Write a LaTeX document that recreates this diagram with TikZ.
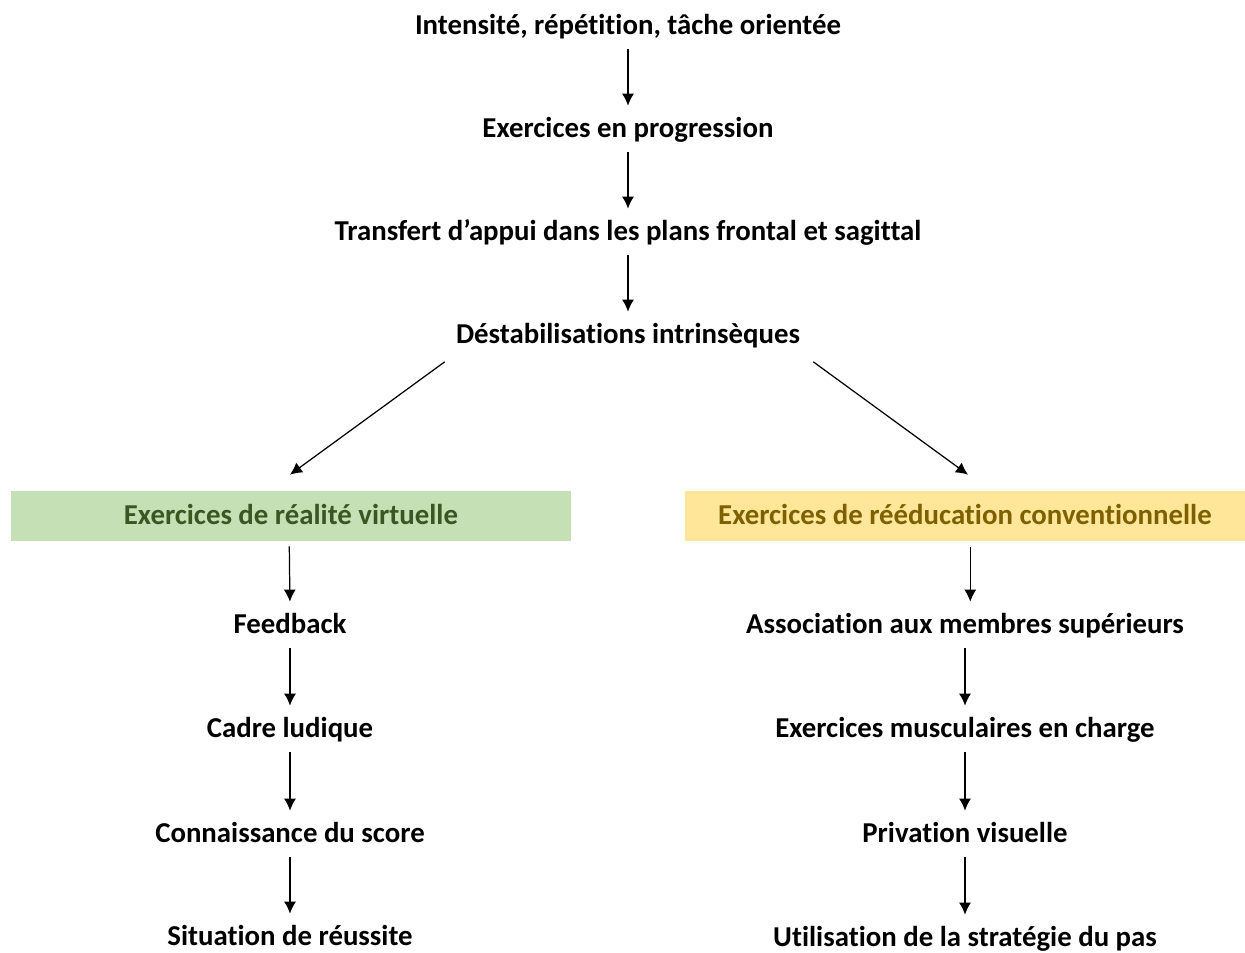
\documentclass[tikz,border=0pt]{standalone}
\usepackage{fontspec}
\setmainfont{Carlito}[Ligatures=NoCommon]
\usetikzlibrary{arrows.meta}
\definecolor{vertfond}{HTML}{C5E0B4}\definecolor{vertfonce}{HTML}{385723}
\definecolor{jaunefond}{HTML}{FFE699}\definecolor{ocre}{HTML}{7F6000}
\begin{document}
\begin{tikzpicture}[x=0.02cm,y=-0.02cm]
	\tikzstyle{fleche}=[-{Latex[length=2.4mm,width=2.4mm]},line width=0.7pt,shorten <=1.6mm,shorten >=1.7mm]
	\tikzstyle{etape}=[font=\fontsize{16.4}{19}\selectfont\bfseries,inner sep=0pt,text height=13pt,text depth=3.5pt]
	\tikzstyle{cadre}=[etape,minimum width=11.2cm,minimum height=1cm]
	\def\ColonneA{628}\def\ColonneB{290}\def\ColonneC{965}
	\useasboundingbox (0,0) rectangle (1245,953);
	% tronc commun
	\node[etape] (I) at (\ColonneA,26) {Intensité, répétition, tâche orientée};
	\node[etape] (P) at (\ColonneA,129) {Exercices en progression};
	\node[etape] (T) at (\ColonneA,232) {Transfert d’appui dans les plans frontal et sagittal};
	\node[etape] (D) at (\ColonneA,335) {Déstabilisations intrinsèques};
	% deux branches
	\node[cadre,fill=vertfond,text=vertfonce] (V) at (291,516) {Exercices de réalité virtuelle};
	\node[cadre,fill=jaunefond,text=ocre] (C) at (\ColonneC,516) {Exercices de rééducation conventionnelle};
	\node[etape] (Va) at (\ColonneB,625) {Feedback};
	\node[etape] (Vb) at (\ColonneB,729) {Cadre ludique};
	\node[etape] (Vc) at (\ColonneB,834) {Connaissance du score};
	\node[etape] (Vd) at (\ColonneB,937) {Situation de réussite};
	\node[etape] (Ca) at (\ColonneC,625) {Association aux membres supérieurs};
	\node[etape] (Cb) at (\ColonneC,729) {Exercices musculaires en charge};
	\node[etape] (Cc) at (\ColonneC,834) {Privation visuelle};
	\node[etape] (Cd) at (\ColonneC,938) {Utilisation de la stratégie du pas};
	\draw[fleche] (I)--(P);
	\draw[fleche] (P)--(T);
	\draw[fleche] (T)--(D);
	\draw[fleche,shorten <=0pt,shorten >=0pt] ([shift={(-11,12)}]D.south west)--([shift={(-1,-16)}]V.north);
	\draw[fleche,shorten <=0pt,shorten >=0pt] ([shift={(13,12)}]D.south east)--([shift={(3,-16)}]C.north);
	\draw[fleche,shorten <=1mm] ([xshift=-1]V.south)--(Va.north);
	\draw[fleche] (Va)--(Vb);
	\draw[fleche] (Vb)--(Vc);
	\draw[fleche] (Vc)--(Vd);
	\draw[fleche,shorten <=1.2mm] ([xshift=3]C.south)--([xshift=3]Ca.north);
	\draw[fleche] (Ca)--(Cb);
	\draw[fleche] (Cb)--(Cc);
	\draw[fleche] (Cc)--(Cd);
\end{tikzpicture}
\end{document}
